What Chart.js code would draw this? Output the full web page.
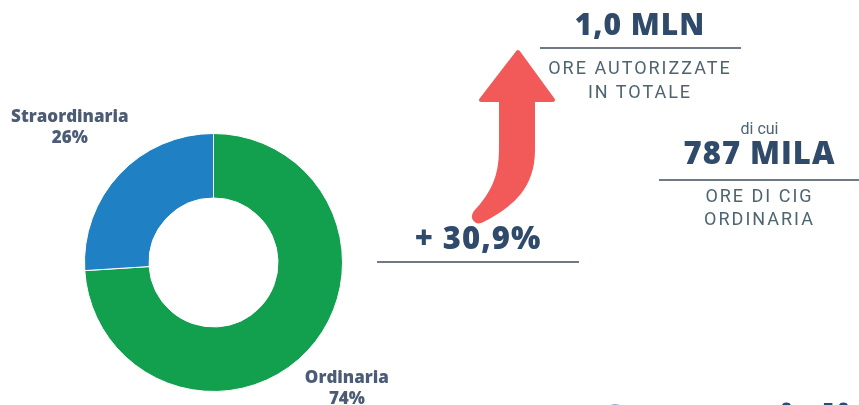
<!DOCTYPE html>
<html>
<head>
<meta charset="utf-8">
<script src="https://cdn.jsdelivr.net/npm/chart.js@4/dist/chart.umd.min.js"></script>
<style>
body{margin:0;width:859px;height:405px;overflow:hidden;background:#fff;position:relative;font-family:"Open Sans",sans-serif}
#donut{position:absolute;left:0;top:0}
.t{position:absolute;text-align:center;white-space:nowrap}
.big{font-weight:800;color:#2f4a6a;letter-spacing:1px}
.small{font-family:Roboto,sans-serif;color:#4e6470;letter-spacing:2px}
.rule{position:absolute;height:2px;background:#707a86}
</style>
</head>
<body>
<canvas id="donut" width="859" height="405"></canvas>

<svg width="859" height="405" style="position:absolute;left:0;top:0">
<path d="M518,52 L553,100 L533,100 L533,150 C533,186 513,205 481,221 C476,223 472,218 475,213 C493,194 501,176 501,150 L501,100 L481,100 Z"
 fill="#f25a5a" stroke="#f25a5a" stroke-width="4" stroke-linejoin="round"/>
</svg>

<div class="t big" style="left:540px;width:200px;top:3px;font-size:30px">1,0 MLN</div>
<div class="rule" style="left:540px;width:201px;top:47px"></div>
<div class="t small" style="left:540px;width:200px;top:56px;font-size:18px;line-height:24px">ORE AUTORIZZATE<br>IN TOTALE</div>

<div class="t" style="left:660px;width:199px;top:119px;font-size:16px;color:#4e6470;font-family:Roboto,sans-serif">di cui</div>
<div class="t big" style="left:660px;width:199px;top:131px;font-size:31px">787 MILA</div>
<div class="rule" style="left:659px;width:200px;top:179px"></div>
<div class="t small" style="left:660px;width:199px;top:184px;font-size:18px;line-height:23px">ORE DI CIG<br>ORDINARIA</div>

<div class="t big" style="left:377px;width:202px;top:216px;font-size:31px">+ 30,9%</div>
<div class="rule" style="left:377px;width:202px;top:261px"></div>

<div class="t big" style="left:598px;top:390px;font-size:44px;color:#2a4d78">Contatti di lavoro</div>

<script>
var categories = ["Ordinaria", "Straordinaria"]
var values = [74, 26]
var colors = ["#12a04f", "#1f80c4"]

var outerLabels = {
    id: "outerLabels",
    afterDraw: function(chart, args, opts){
        var ctx = chart.ctx
        var meta = chart.getDatasetMeta(0)
        ctx.save()
        ctx.fillStyle = "#4d5c76"
        ctx.font = "800 17px 'Open Sans'"
        ctx.textAlign = "center"
        ctx.textBaseline = "middle"
        meta.data.forEach(function(arc, i){
            var mid = (arc.startAngle + arc.endAngle) / 2
            var r = arc.outerRadius + opts.offsets[i]
            var x = arc.x + Math.cos(mid) * r
            var y = arc.y + Math.sin(mid) * r
            ctx.fillText(categories[i], x, y - 10)
            ctx.fillText(values[i] + "%", x, y + 11)
        })
        ctx.restore()
    }
}

new Chart(document.getElementById("donut"), {
    type: "doughnut",
    data: {
        labels: categories,
        datasets: [{
            data: values,
            backgroundColor: colors,
            borderColor: "#ffffff",
            borderWidth: 1
        }]
    },
    options: {
        responsive: false,
        animation: false,
        cutout: "50%",
        layout: {padding: {left: 84, top: 133, right: 516, bottom: 13}},
        plugins: {
            legend: {display: false},
            tooltip: {enabled: false},
            outerLabels: {offsets: [54, 68]}
        }
    },
    plugins: [outerLabels]
})
</script>
</body>
</html>
